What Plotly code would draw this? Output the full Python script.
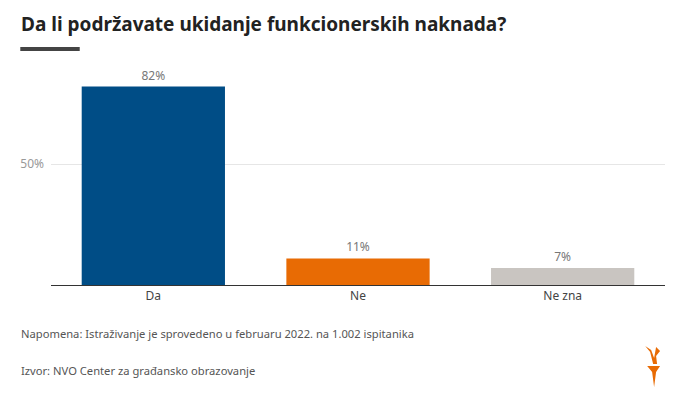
import plotly.graph_objects as go

categories = ["Da", "Ne", "Ne zna"]
values = [82, 11, 7]
colors = ["#004d86", "#e86b04", "#c9c5c1"]
tick_vals = [50]
tick_text = ["50%"]
title = "Da li podržavate ukidanje funkcionerskih naknada?"
note = "Napomena: Istraživanje je sprovedeno u februaru 2022. na 1.002 ispitanika"
source = "Izvor: NVO Center za građansko obrazovanje"

OFF = 8  # default page body margin
W, H = 677 - OFF, 402 - OFF
# plot area in page pixels: x 45..665, y 43..285
L, R, T = 45 - OFF, 677 - 665, 43 - OFF
B = H - (285 - OFF)
pw, ph = W - L - R, H - T - B

def px(x):
    return (x - OFF - L) / pw

def py(y):
    return (H - B - (y - OFF)) / ph

fig = go.Figure(go.Bar(
    x=categories, y=values, marker=dict(color=colors, line=dict(width=0)),
    text=[f"{v}%" for v in values], textposition="outside",
    textfont=dict(color="#777777", size=12, family="Noto Sans"),
    cliponaxis=False, hoverinfo="skip",
))

fig.update_layout(
    width=W, height=H, margin=dict(l=L, r=R, t=T, b=B),
    paper_bgcolor="white", plot_bgcolor="white",
    bargap=0.30, showlegend=False,
    font=dict(family="Noto Sans", color="#444444"),
    xaxis=dict(showline=True, linecolor="#333333", linewidth=1, ticks="",
               tickfont=dict(size=12, color="#444444"), fixedrange=True),
    yaxis=dict(range=[0, 100], tickvals=tick_vals, ticktext=tick_text,
               showgrid=True, gridcolor="#e6e6e6", zeroline=False,
               tickfont=dict(size=12, color="#999999"), ticklabelstandoff=6,
               fixedrange=True),
)

fig.add_annotation(text=f"<b>{title}</b>", xref="paper", yref="paper",
                   x=px(13), y=py(8.5), xanchor="left", yanchor="top",
                   showarrow=False, font=dict(size=19, color="#222222", family="Noto Sans"))
fig.add_shape(type="rect", xref="paper", yref="paper",
              x0=px(14), x1=px(74), y0=py(51), y1=py(47),
              fillcolor="#444444", line=dict(width=0))
fig.add_annotation(text=note, xref="paper", yref="paper",
                   x=px(13), y=py(333), xanchor="left", yanchor="middle",
                   showarrow=False, font=dict(size=11.2, color="#555555"))
fig.add_annotation(text=source, xref="paper", yref="paper",
                   x=px(13), y=py(370), xanchor="left", yanchor="middle",
                   showarrow=False, font=dict(size=11.2, color="#555555"))

# logo (torch) approximation
def pth(points):
    return "M " + " L ".join(f"{px(x)},{py(y)}" for x, y in points) + " Z"

fig.add_shape(type="path", xref="paper", yref="paper",
              path=pth([(647, 366), (660, 366), (656, 372), (654, 387), (652, 372)]),
              fillcolor="#e86b04", line=dict(width=0))
fig.add_shape(type="path", xref="paper", yref="paper",
              path=pth([(653, 364), (650, 352), (645, 346), (651, 350), (654, 358), (656, 347), (660, 351), (656, 356), (657, 364)]),
              fillcolor="#e86b04", line=dict(width=0))

fig.write_html("out.html")
